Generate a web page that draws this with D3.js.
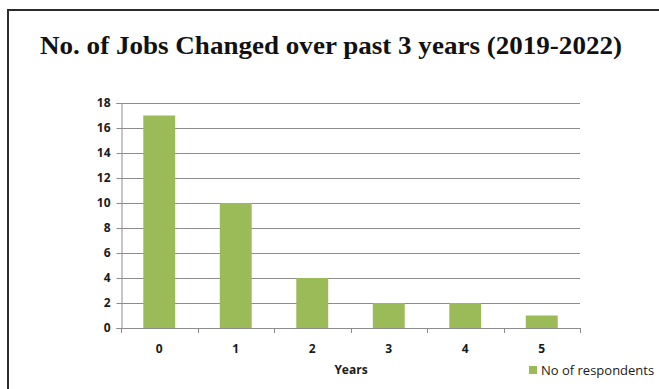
<!DOCTYPE html>
<html>
<head>
<meta charset="utf-8">
<script src="https://cdn.jsdelivr.net/npm/d3@7"></script>
<style>
  html, body { margin: 0; padding: 0; background: #fff; }
  svg { display: block; }
</style>
</head>
<body>
<script>
// Number of job changes over the last three years, by count of changes
const categories = ["0", "1", "2", "3", "4", "5"];
const respondents = [17, 10, 4, 2, 2, 1];
const yTicks = [0, 2, 4, 6, 8, 10, 12, 14, 16, 18];
const seriesName = "No of respondents";
const chartTitle = "No. of Jobs Changed over past 3 years (2019-2022)";
const xTitle = "Years";

const W = 659, H = 389;
const plot = { left: 121, right: 580, top: 103, bottom: 328 };
const barColor = "#9bbb59";
const gridColor = "#8c8c8c";
const labelFont = "'Open Sans', sans-serif";

const svg = d3.select("body").append("svg")
  .attr("width", W).attr("height", H);

// frame: top and left rules
svg.append("path")
  .attr("d", `M8,${H} L8,10 L${W},10`)
  .attr("fill", "none")
  .attr("stroke", "#2b2b2b")
  .attr("stroke-width", 2);

svg.append("text")
  .attr("x", 40).attr("y", 54)
  .attr("font-family", "'Liberation Serif', 'Times New Roman', serif")
  .attr("font-weight", "bold")
  .attr("font-size", 25)
  .attr("textLength", 582)
  .attr("lengthAdjust", "spacingAndGlyphs")
  .attr("fill", "#111")
  .text(chartTitle);

const x = d3.scaleBand()
  .domain(categories)
  .range([plot.left, plot.right])
  .paddingInner(0.583)
  .paddingOuter(0.2915);

const y = d3.scaleLinear()
  .domain([0, 18])
  .range([plot.bottom, plot.top]);

// horizontal gridlines
svg.append("g")
  .selectAll("line")
  .data(yTicks.filter(d => d > 0))
  .join("line")
  .attr("x1", plot.left).attr("x2", plot.right)
  .attr("y1", d => Math.round(y(d)) + 0.5)
  .attr("y2", d => Math.round(y(d)) + 0.5)
  .attr("stroke", gridColor)
  .attr("stroke-width", 1);

// bars
svg.append("g")
  .selectAll("rect")
  .data(respondents)
  .join("rect")
  .attr("x", (d, i) => x(categories[i]))
  .attr("width", x.bandwidth())
  .attr("y", d => y(d))
  .attr("height", d => y(0) - y(d))
  .attr("fill", barColor);

// y axis
const yAxis = svg.append("g")
  .attr("transform", `translate(${plot.left + 0.5},0)`)
  .call(d3.axisLeft(y).tickValues(yTicks).tickSize(5).tickPadding(6).tickFormat(d3.format("d")));
yAxis.select(".domain").attr("stroke", gridColor);
yAxis.selectAll(".tick line").attr("stroke", gridColor);
yAxis.selectAll("text")
  .attr("font-family", labelFont)
  .attr("font-size", 12)
  .attr("font-weight", 700)
  .attr("fill", "#1a1a1a");

// x axis: ticks sit between categories
const boundaries = d3.range(categories.length + 1)
  .map(i => plot.left + i * x.step());
const xAxisG = svg.append("g");
xAxisG.append("line")
  .attr("x1", plot.left).attr("x2", plot.right)
  .attr("y1", plot.bottom + 0.5).attr("y2", plot.bottom + 0.5)
  .attr("stroke", gridColor);
xAxisG.selectAll("line.tk")
  .data(boundaries)
  .join("line")
  .attr("class", "tk")
  .attr("x1", d => Math.round(d) + 0.5).attr("x2", d => Math.round(d) + 0.5)
  .attr("y1", plot.bottom).attr("y2", plot.bottom + 5)
  .attr("stroke", gridColor);
xAxisG.selectAll("text")
  .data(categories)
  .join("text")
  .attr("x", d => x(d) + x.bandwidth() / 2)
  .attr("y", 353)
  .attr("text-anchor", "middle")
  .attr("font-family", labelFont)
  .attr("font-size", 12)
  .attr("font-weight", 700)
  .attr("fill", "#1a1a1a")
  .text(d => d);

svg.append("text")
  .attr("x", 351).attr("y", 374)
  .attr("text-anchor", "middle")
  .attr("font-family", labelFont)
  .attr("font-size", 12)
  .attr("font-weight", 700)
  .attr("fill", "#1a1a1a")
  .text(xTitle);

// legend
const legend = svg.append("g").attr("transform", "translate(529,366)");
legend.append("rect")
  .attr("width", 8).attr("height", 8)
  .attr("fill", barColor);
legend.append("text")
  .attr("x", 12).attr("y", 9)
  .attr("font-family", labelFont)
  .attr("font-size", 13)
  .attr("fill", "#1a1a1a")
  .text(seriesName);
</script>
</body>
</html>
